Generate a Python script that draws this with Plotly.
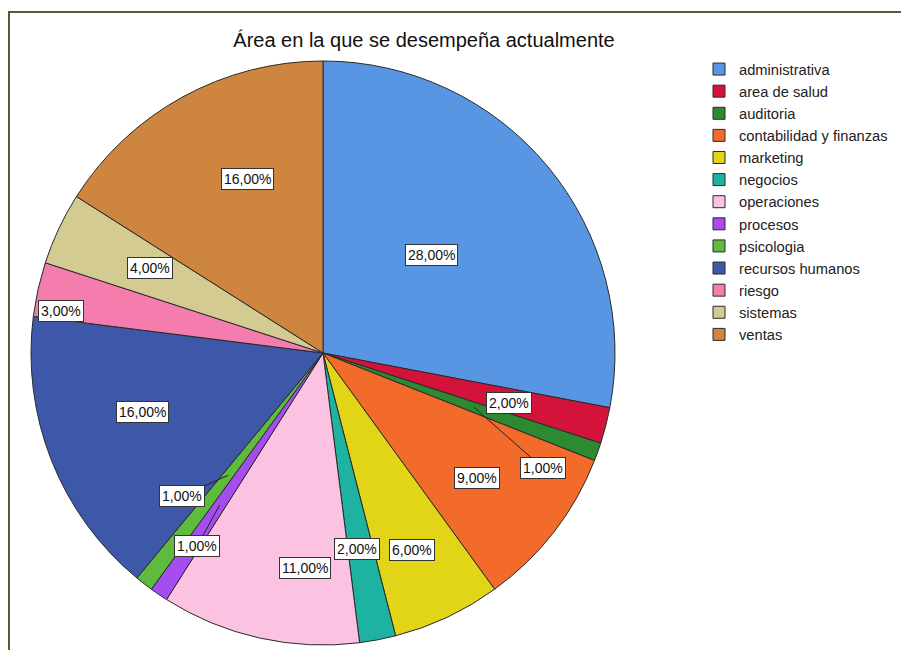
import math
import plotly.graph_objects as go

# ─── Data ─────────────────────────────────────────────────────────────────────
AREAS = [
    'administrativa', 'area de salud', 'auditoria', 'contabilidad y finanzas',
    'marketing', 'negocios', 'operaciones', 'procesos', 'psicologia',
    'recursos humanos', 'riesgo', 'sistemas', 'ventas',
]
PERCENTS = [28, 2, 1, 9, 6, 2, 11, 1, 1, 16, 3, 4, 16]

COLORS = [
    '#5896E3', '#D3133A', '#2E8A32', '#F26B2A', '#E2D416', '#1DB3A0',
    '#FCC2E1', '#A64DF0', '#5EBB3D', '#3D58A8', '#F47DAD', '#D3CB91', '#CD853F',
]

# label placement (radius as fraction of pie radius, angle nudge in degrees)
LABEL_R = [0.50, 0.66, 0.85, 0.68, 0.74, 0.68, 0.74, 0.79, 0.69, 0.65, 0.91, 0.66, 0.65]
LABEL_DA = [-2.3, 0.7, 7.8, 1.2, 0.9, 0.9, -7.8, -1.1, 6.8, 3.5, -3.5, 1.0, 5.2]
# slices with leader line: anchor radius fraction
LEADER_R = {2: 0.55, 7: 0.63, 8: 0.53}

W, H = 909, 650
OFF = 8                      # page body margin
CX, CY, R = 323 - OFF, 353 - OFF, 292

fig = go.Figure()
fig.add_trace(go.Pie(
    labels=AREAS,
    values=PERCENTS,
    sort=False,
    direction='clockwise',
    rotation=0,
    textinfo='none',
    hoverinfo='label+percent',
    marker=dict(colors=COLORS, line=dict(color='#2a2a2a', width=1)),
    domain=dict(x=[(CX - R) / W, (CX + R) / W], y=[(H - CY - R) / H, (H - CY + R) / H]),
))


def to_paper(px, py):
    return px / W, 1 - py / H


total = sum(PERCENTS)
cum = 0
for i, v in enumerate(PERCENTS):
    mid = (cum + v / 2) / total * 360
    cum += v
    ang = math.radians(mid + LABEL_DA[i])
    lx = CX + LABEL_R[i] * R * math.sin(ang)
    ly = CY - LABEL_R[i] * R * math.cos(ang)
    text = f'{v:.2f}%'.replace('.', ',')
    box = dict(
        text=text, showarrow=False, xref='paper', yref='paper',
        xanchor='center', yanchor='middle',
        font=dict(family='Liberation Sans, Arial', size=14, color='#111'),
        bgcolor='white', bordercolor='#333', borderwidth=1, borderpad=2,
    )
    if i in LEADER_R:
        a = math.radians(mid)
        axp = CX + LEADER_R[i] * R * math.sin(a)
        ayp = CY - LEADER_R[i] * R * math.cos(a)
        x, y = to_paper(axp, ayp)
        box.update(x=x, y=y, showarrow=True, arrowhead=0, arrowwidth=1,
                   arrowcolor='#222', ax=lx - axp, ay=ly - ayp)
    else:
        x, y = to_paper(lx, ly)
        box.update(x=x, y=y)
    fig.add_annotation(**box)

# olive frame around the chart
fig.add_shape(type='rect', xref='paper', yref='paper',
              x0=1 / W, x1=1.02, y0=-0.02, y1=1 - 4 / H,
              line=dict(color='#5B5634', width=2), layer='below')

fig.update_layout(
    width=W, height=H,
    margin=dict(l=0, r=0, t=0, b=0),
    paper_bgcolor='white',
    plot_bgcolor='white',
    title=dict(
        text='Área en la que se desempeña actualmente',
        x=(424 - OFF) / W, xanchor='center', y=1 - (40 - OFF) / H, yanchor='middle',
        font=dict(family='Liberation Sans, Arial', size=20, color='#111'),
    ),
    legend=dict(
        x=(699 - OFF) / W, y=1 - (53 - OFF) / H, xanchor='left', yanchor='top',
        font=dict(family='Liberation Sans, Arial', size=14.7, color='#222'),
        tracegroupgap=0, itemwidth=30, bgcolor='rgba(0,0,0,0)',
    ),
    showlegend=True,
)

fig.write_html('out.html')
